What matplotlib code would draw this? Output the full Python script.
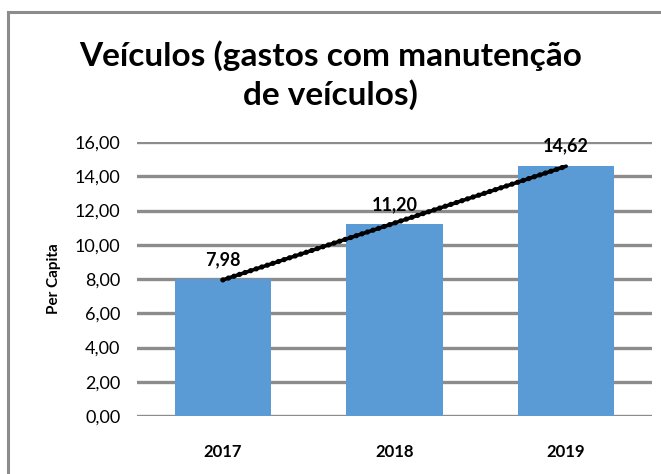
import matplotlib
matplotlib.use("Agg")
import matplotlib.pyplot as plt
from matplotlib.patches import Rectangle
import numpy as np

years = ["2017", "2018", "2019"]
per_capita = [7.98, 11.20, 14.62]
y_ticks = [0, 2, 4, 6, 8, 10, 12, 14, 16]

plt.rcParams["font.family"] = ["Lato", "DejaVu Sans"]

fig = plt.figure(figsize=(6.61, 4.74), dpi=100)

# chart frame
fig.patches.append(Rectangle((8 / 661, -0.1), 1.2, 1 - 12 / 474 + 0.1, transform=fig.transFigure,
                             fill=False, edgecolor="#8c8c8c", linewidth=2.2))

ax = fig.add_axes([137 / 661, 1 - 416 / 474, (652 - 137) / 661, (416 - 142) / 474])

x = np.arange(len(years))
ax.bar(x, per_capita, width=0.56, color="#5b9bd5", zorder=2)

# linear trend, drawn as a beaded line
coef = np.polyfit(x, per_capita, 1)
tx = x[[0, -1]]
ty = np.polyval(coef, tx)
ax.plot(tx, ty, color="black", linewidth=2.6, solid_capstyle="round", zorder=3)
ax.plot(tx, ty, color="black", linewidth=3.8, linestyle=(0, (0.01, 1.1)),
        dash_capstyle="round", zorder=3)

for xi, v in zip(x, per_capita):
    ax.annotate(f"{v:.2f}".replace(".", ","), (xi, v), xytext=(0, 8), textcoords="offset points",
                ha="center", va="bottom", fontsize=13, fontweight="bold")

ax.set_xlim(-0.5, 2.5)
ax.set_ylim(0, 16)
ax.set_yticks(y_ticks)
ax.set_yticklabels([f"{t:.2f}".replace(".", ",") for t in y_ticks], fontsize=13)
ax.set_xticks(x)
ax.set_xticklabels(years, fontsize=12, fontweight="bold")
ax.tick_params(length=0, pad=12)
ax.tick_params(axis="x", pad=20)
ax.grid(axis="y", color="#8c8c8c", linewidth=2.4, zorder=0)
ax.set_axisbelow(True)
for s in ax.spines.values():
    s.set_visible(False)

ax.set_ylabel("Per Capita", fontsize=11, fontweight="bold", labelpad=10)

fig.text(0.5, 1 - 75 / 474, "Veículos (gastos com manutenção\nde veículos)", ha="center", va="center",
         fontsize=24, fontweight="bold", linespacing=1.3)

fig.savefig("out.png", dpi=100)
